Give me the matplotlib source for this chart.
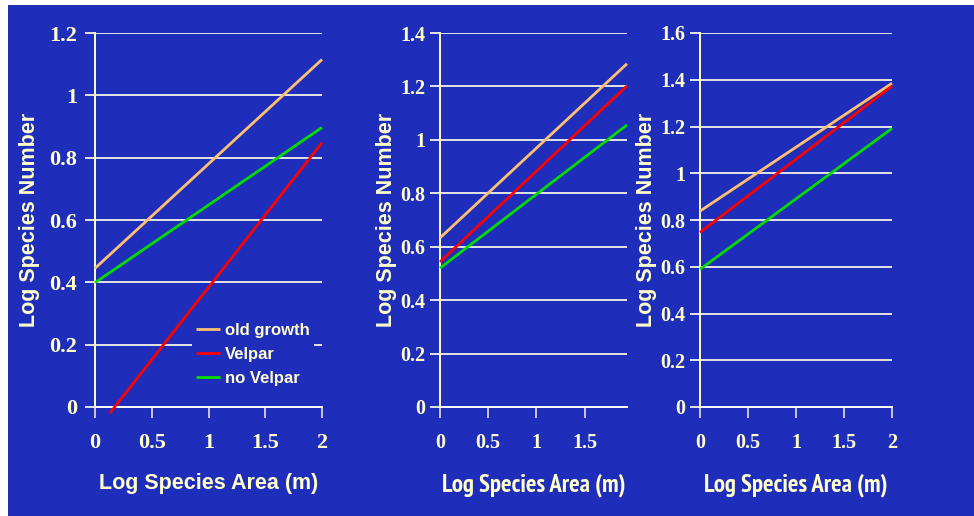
import matplotlib
matplotlib.use("Agg")
import matplotlib.pyplot as plt
from matplotlib.patches import Rectangle
from matplotlib import font_manager
from matplotlib.ticker import FuncFormatter

# values: each line is a start and an end point
series = ["old growth", "Velpar", "no Velpar"]
colors = ["#FFC070", "#FF0000", "#00DD00"]

p1_x = [[0, 2], [0.13, 2], [0, 2]]
p1_y = [[0.445, 1.115], [-0.02, 0.848], [0.399, 0.897]]

p2_x = [[0, 1.94], [0, 1.94], [0, 1.94]]
p2_y = [[0.633, 1.285], [0.543, 1.202], [0.52, 1.056]]

p3_x = [[0, 2], [0, 2], [0, 2]]
p3_y = [[0.838, 1.385], [0.747, 1.373], [0.589, 1.192]]

p1_yticks = [0, 0.2, 0.4, 0.6, 0.8, 1, 1.2]
p2_yticks = [0, 0.2, 0.4, 0.6, 0.8, 1, 1.2, 1.4]
p3_yticks = [0, 0.2, 0.4, 0.6, 0.8, 1, 1.2, 1.4, 1.6]
p1_xticks = [0, 0.5, 1, 1.5, 2]
p2_xticks = [0, 0.5, 1, 1.5]
p3_xticks = [0, 0.5, 1, 1.5, 2]

xlabel = "Log Species Area (m)"
ylabel = "Log Species Number"

BLUE = "#1F2DBB"
CREAM = "#FFFFCC"
GRID = "#E4E4E4"

# the 2nd and 3rd panels look squeezed sideways, so use a narrow bold face there
bold_names = set()
for f in font_manager.fontManager.ttflist:
    if f.weight in ("bold", 700) and f.style == "normal":
        bold_names.add(f.name)
narrow, narrow_size = "Liberation Sans", 13.2
for cand in ["Liberation Sans Narrow", "Arimo Narrow", "Archivo Narrow",
             "PT Sans Narrow", "Roboto Condensed", "Pragati Narrow",
             "Open Sans Condensed", "IBM Plex Sans Condensed", "Encode Sans Condensed"]:
    if cand in bold_names:
        narrow, narrow_size = cand, 17.8
        break

fig = plt.figure(figsize=(9.74, 5.16), dpi=100, facecolor="white")
fig.patches.append(Rectangle((8 / 974, 0), 1 - 8 / 974, 1 - 5 / 516,
                             transform=fig.transFigure, facecolor=BLUE,
                             edgecolor="none", zorder=-10))

H = 516.0
W = 974.0
panels = [
    dict(px=(95, 322), xs=p1_x, ys=p1_y, ymax=1.2, xmax=2, yt=p1_yticks, xt=p1_xticks,
         ylx=-0.242, xfont="Liberation Sans", xsize=15.5, tsize=16, ypad=6),
    dict(px=(440, 627), xs=p2_x, ys=p2_y, ymax=1.4, xmax=1.94, yt=p2_yticks, xt=p2_xticks,
         ylx=-0.23, xfont=narrow, xsize=narrow_size, tsize=14.5, ypad=3.5),
    dict(px=(700, 892), xs=p3_x, ys=p3_y, ymax=1.6, xmax=2, yt=p3_yticks, xt=p3_xticks,
         ylx=-0.224, xfont=narrow, xsize=narrow_size, tsize=14.5, ypad=3.5),
]

fmt = FuncFormatter(lambda v, pos: "%g" % v)
axes = []
for p in panels:
    l, r = p["px"]
    ax = fig.add_axes([l / W, (H - 407) / H, (r - l) / W, 374 / H])
    ax.set_facecolor("none")
    for i in range(3):
        ax.plot(p["xs"][i], p["ys"][i], color=colors[i], lw=2, label=series[i],
                clip_on=False, solid_capstyle="butt", zorder=3)
    ax.set_xlim(0, p["xmax"])
    ax.set_ylim(0, p["ymax"])
    ax.set_yticks(p["yt"])
    ax.set_xticks(p["xt"])
    ax.xaxis.set_major_formatter(fmt)
    ax.yaxis.set_major_formatter(fmt)
    ax.grid(axis="y", color=GRID, lw=1.4, zorder=1)
    for s in ["top", "right"]:
        ax.spines[s].set_visible(False)
    ax.spines["left"].set_color(CREAM)
    ax.spines["left"].set_linewidth(1.4)
    ax.spines["bottom"].set_color("white")
    ax.spines["bottom"].set_linewidth(1.4)
    ax.tick_params(axis="y", length=7, width=1.4, color=GRID, pad=p["ypad"],
                   labelcolor=CREAM)
    ax.tick_params(axis="x", length=8, width=1.4, color="#C8C8D8", pad=11,
                   labelcolor=CREAM)
    for t in ax.get_xticklabels() + ax.get_yticklabels():
        t.set_fontfamily("Liberation Serif")
        t.set_fontweight("bold")
        t.set_fontsize(p["tsize"])
    ax.set_xlabel(xlabel, color=CREAM, fontsize=p["xsize"], fontweight="bold",
                  family=p["xfont"])
    ax.set_ylabel(ylabel, color=CREAM, fontsize=15.5, fontweight="bold",
                  family="Liberation Sans")
    ax.xaxis.set_label_coords(0.5, -0.177)
    ax.yaxis.set_label_coords(p["ylx"], 0.5)
    axes.append(ax)

leg = axes[0].legend(loc="upper left", bbox_to_anchor=(192 / W, (H - 319) / H),
                     bbox_transform=fig.transFigure, frameon=True, fancybox=False,
                     facecolor=BLUE, edgecolor="none", framealpha=1,
                     borderpad=0.25, borderaxespad=0, handlelength=1.45,
                     handletextpad=0.3, labelspacing=0.54,
                     prop={"family": "Liberation Sans", "weight": "bold", "size": 12})
for t in leg.get_texts():
    t.set_color(CREAM)
leg.set_zorder(5)

fig.savefig("out.png", dpi=100, facecolor="white")
